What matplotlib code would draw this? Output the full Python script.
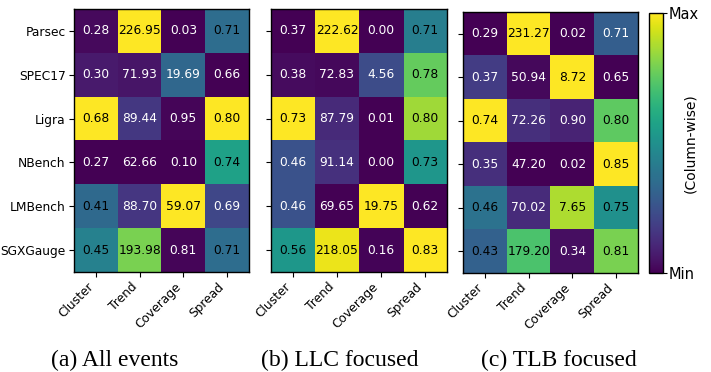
import numpy as np
import matplotlib
matplotlib.use("Agg")
import matplotlib.pyplot as plt
from matplotlib.colors import Normalize
from matplotlib.cm import ScalarMappable

rows = ['Parsec', 'SPEC17', 'Ligra', 'NBench', 'LMBench', 'SGXGauge']
cols = ['Cluster', 'Trend', 'Coverage', 'Spread']

a_cluster = [0.28, 0.30, 0.68, 0.27, 0.41, 0.45]
a_trend = [226.95, 71.93, 89.44, 62.66, 88.70, 193.98]
a_coverage = [0.03, 19.69, 0.95, 0.10, 59.07, 0.81]
a_spread = [0.71, 0.66, 0.80, 0.74, 0.69, 0.71]

b_cluster = [0.37, 0.38, 0.73, 0.46, 0.46, 0.56]
b_trend = [222.62, 72.83, 87.79, 91.14, 69.65, 218.05]
b_coverage = [0.00, 4.56, 0.01, 0.00, 19.75, 0.16]
b_spread = [0.71, 0.78, 0.80, 0.73, 0.62, 0.83]

c_cluster = [0.29, 0.37, 0.74, 0.35, 0.46, 0.43]
c_trend = [231.27, 50.94, 72.26, 47.20, 70.02, 179.20]
c_coverage = [0.02, 8.72, 0.90, 0.02, 7.65, 0.34]
c_spread = [0.71, 0.65, 0.80, 0.85, 0.75, 0.81]

captions = ['(a) All events', '(b) LLC focused', '(c) TLB focused']

panels = [
    np.array([a_cluster, a_trend, a_coverage, a_spread]).T,
    np.array([b_cluster, b_trend, b_coverage, b_spread]).T,
    np.array([c_cluster, c_trend, c_coverage, c_spread]).T,
]

W, H = 711, 372
fig = plt.figure(figsize=(W / 100, H / 100), dpi=100)

def rect(l, t, r, b):
    return [l / W, 1 - b / H, (r - l) / W, (b - t) / H]

ax_rects = [rect(74, 9, 249, 272), rect(271, 9, 447, 272), rect(463, 12, 638, 273)]
cap_x = [115, 340, 559]
white_override = {(0, 1, 2)}

for p, (data, r) in enumerate(zip(panels, ax_rects)):
    ax = fig.add_axes(r)
    mn = data.min(axis=0)
    mx = data.max(axis=0)
    norm = (data - mn) / np.where(mx - mn == 0, 1, mx - mn)
    ax.imshow(norm, cmap='viridis', aspect='auto', vmin=0, vmax=1,
              interpolation='nearest')
    for i in range(data.shape[0]):
        for j in range(data.shape[1]):
            col = 'black' if norm[i, j] > 0.3 else 'white'
            if (p, i, j) in white_override:
                col = 'white'
            ax.text(j, i, f"{data[i, j]:.2f}", ha='center', va='center',
                    color=col, fontsize=8.8)
    ax.set_xticks(range(len(cols)))
    ax.set_xticklabels(cols, rotation=45, ha='right', fontsize=8.8)
    ax.set_yticks(range(len(rows)))
    if p == 0:
        ax.set_yticklabels(rows, fontsize=8.8)
    else:
        ax.set_yticklabels([])
    ax.tick_params(length=3.5, width=0.8, pad=2.5)
    for s in ax.spines.values():
        s.set_linewidth(1.0)
    fig.text(cap_x[p] / W, 1 - 360 / H, captions[p], ha='center', va='center',
             fontsize=17, family='Liberation Serif')

cax = fig.add_axes(rect(649, 13, 663, 273))
sm = ScalarMappable(norm=Normalize(0, 1), cmap='viridis')
cb = fig.colorbar(sm, cax=cax)
cb.set_ticks([0, 1])
cb.set_ticklabels(['Min', 'Max'], fontsize=10.5)
cb.ax.tick_params(length=3, width=0.8, pad=1)
cb.outline.set_linewidth(1.0)
cax.text(2.95, 0.5, '(Column-wise)', transform=cax.transAxes, rotation=90,
         ha='center', va='center', fontsize=10)

fig.savefig('out.png', dpi=100)
